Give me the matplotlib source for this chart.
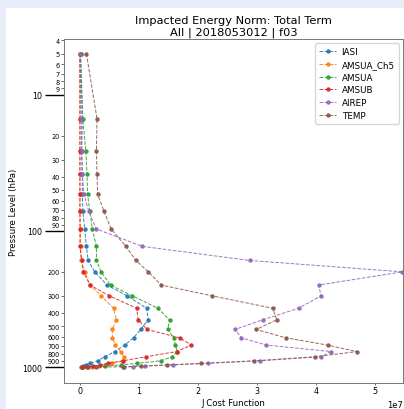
"""Perfil vertical de la norma de energia impactada por tipo de observacion."""

import matplotlib
matplotlib.use("Agg")
import matplotlib.pyplot as plt
import matplotlib.patches as patches
from matplotlib.ticker import FixedLocator


# Niveles de presion (hPa)
niveles = [5, 15, 26, 38, 54, 72, 97, 130, 165, 200, 250, 300, 370, 450, 530,
           610, 690, 770, 840, 900, 940, 965, 985, 995, 1000]

# Valores de J (en unidades de 1e7)
iasi = [0.01, 0.04, 0.03, 0.04, 0.04, 0.05, 0.08, 0.11, 0.14, 0.25, 0.46, 0.80, 1.13,
        1.16, 1.03, 0.91, 0.76, 0.59, 0.42, 0.30, 0.17, 0.10, 0.06, 0.04, 0.02]
amsua_ch5 = [0.0, 0.0, 0.0, 0.0, 0.0, 0.0, 0.01, 0.01, 0.02, 0.08, 0.17, 0.36, 0.57,
             0.62, 0.55, 0.55, 0.60, 0.69, 0.74, 0.73, 0.55, 0.42, 0.32, 0.20, 0.03]
amsua = [0.01, 0.05, 0.10, 0.12, 0.13, 0.17, 0.21, 0.28, 0.28, 0.36, 0.52, 0.89, 1.32,
         1.52, 1.49, 1.59, 1.62, 1.65, 1.57, 1.37, 0.97, 0.70, 0.42, 0.13, 0.05]
amsub = [0.0, 0.0, 0.0, 0.0, 0.0, 0.0, 0.0, 0.0, 0.03, 0.06, 0.17, 0.50, 0.96,
         0.99, 1.14, 1.69, 1.89, 1.64, 1.12, 0.73, 0.47, 0.34, 0.23, 0.12, 0.04]
airep = [0.0, 0.02, 0.03, 0.04, 0.07, 0.15, 0.28, 1.06, 2.88, 5.47, 4.05, 4.09, 3.71,
         3.10, 2.63, 2.74, 3.16, 4.26, 4.09, 3.05, 2.17, 1.58, 1.10, 0.90, 0.74]
temp = [0.11, 0.29, 0.28, 0.29, 0.30, 0.41, 0.53, 0.78, 0.95, 1.16, 1.38, 2.24, 3.27,
        3.34, 2.99, 3.49, 4.20, 4.70, 3.99, 2.96, 2.06, 1.47, 1.04, 0.73, 0.28]

series = [
    ("IASI", iasi, "#1f77b4"),
    ("AMSUA_Ch5", amsua_ch5, "#ff7f0e"),
    ("AMSUA", amsua, "#2ca02c"),
    ("AMSUB", amsub, "#d62728"),
    ("AIREP", airep, "#9467bd"),
    ("TEMP", temp, "#8c564b"),
]

ESCALA = 1e7

fig = plt.figure(figsize=(4.04, 4.10), dpi=100)
fig.patch.set_facecolor('#e7edf8')
# Fondo blanco (la captura tiene un borde azulado arriba y a la izquierda)
fig.patches.append(patches.Rectangle((6 / 404, 0), 1, 1 - 9 / 410,
                                     transform=fig.transFigure,
                                     facecolor='white', edgecolor='none', zorder=-10))

ax = fig.add_axes([64 / 404, 1 - 384 / 410, 339 / 404, 344 / 410])

for nombre, valores, color in series:
    ax.plot([v * ESCALA for v in valores], niveles, linestyle='--', marker='o',
            color=color, linewidth=0.7, markersize=2.2, label=nombre, alpha=0.9)

# Eje Y logaritmico invertido
ax.set_yscale('log')
ax.set_ylim(1310, 3.9)
mayores = [10, 100, 1000]
menores = [4, 5, 6, 7, 8, 9, 20, 30, 40, 50, 60, 70, 80, 90,
           200, 300, 400, 500, 600, 700, 800, 900]
ax.yaxis.set_major_locator(FixedLocator(mayores))
ax.set_yticks(mayores, [str(m) for m in mayores])
ax.set_yticks(menores, [str(m) for m in menores], minor=True)
ax.tick_params(axis='y', which='major', length=14, width=1.0, color='black',
               labelsize=5.8, pad=1.5)
ax.tick_params(axis='y', which='minor', length=2, width=0.6, color='#555555',
               labelsize=4.7, pad=1.2)

# Eje X
ax.set_xlim(-0.27 * ESCALA, 5.48 * ESCALA)
ax.set_xticks([i * ESCALA for i in range(6)])
ax.tick_params(axis='x', labelsize=5.8, length=1.5, width=0.6, color='#555555', pad=1.0)
ax.xaxis.get_offset_text().set_fontsize(6)

for sp in ax.spines.values():
    sp.set_color('#777777')
    sp.set_linewidth(0.7)

ax.set_xlabel('J Cost Function', fontsize=6.2, labelpad=2)
ax.set_ylabel('Pressure Level (hPa)', fontsize=6.2, labelpad=3)
ax.set_title('Impacted Energy Norm: Total Term\nAll | 2018053012 | f03',
             fontsize=8.2, pad=3.5, linespacing=1.1)

ax.legend(loc='upper right', fontsize=6.3, labelspacing=0.42, handlelength=2.0,
          handletextpad=0.6, borderpad=0.45, framealpha=0.8)

fig.savefig('out.png', dpi=100)
plt.close(fig)
